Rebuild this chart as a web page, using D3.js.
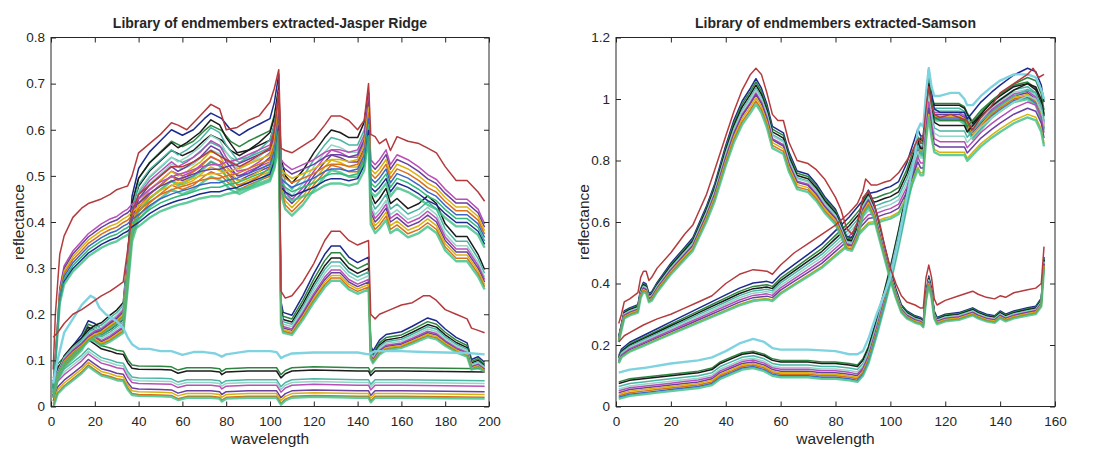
<!DOCTYPE html>
<html>
<head>
<meta charset="utf-8">
<script src="https://cdn.jsdelivr.net/npm/d3@7"></script>
<style>
  body { margin: 0; background: #fff; }
  svg text { font-family: "Liberation Sans", Arial, Helvetica, sans-serif; fill: #262626; }
</style>
</head>
<body>
<svg id="chart" width="1105" height="449"></svg>
<script>
// DATA - Jasper Ridge (wavelength band, reflectance)
const jrTree = [[1,0.02],[3,0.06],[6,0.09],[10,0.11],[14,0.13],[17,0.155],[20,0.15],[23,0.14],[27,0.15],[30,0.16],[33,0.17],[35,0.27],[37,0.38],[40,0.43],[45,0.46],[50,0.48],[55,0.5],[60,0.49],[65,0.5],[70,0.52],[73,0.53],[78,0.52],[82,0.5],[86,0.49],[90,0.5],[95,0.51],[100,0.52],[102,0.55],[104,0.6],[105,0.19],[106,0.17],[110,0.165],[115,0.2],[120,0.24],[125,0.275],[128,0.29],[132,0.29],[136,0.27],[140,0.26],[145,0.27],[146,0.11],[147,0.1],[150,0.12],[153,0.13],[160,0.135],[165,0.145],[172,0.16],[176,0.155],[180,0.14],[185,0.125],[190,0.115],[192,0.085],[195,0.09],[198,0.08]];
const jrTreeTop = [[1,0.15],[3,0.16],[6,0.18],[10,0.2],[14,0.21],[17,0.22],[20,0.23],[23,0.24],[27,0.25],[30,0.26],[33,0.27],[35,0.34],[37,0.42],[40,0.46],[45,0.48],[50,0.5],[55,0.52],[60,0.52],[65,0.53],[70,0.545],[73,0.555],[78,0.54],[82,0.53],[86,0.52],[90,0.53],[95,0.545],[100,0.56],[102,0.6],[104,0.68],[105,0.25],[107,0.235],[110,0.24],[115,0.27],[120,0.31],[125,0.36],[128,0.38],[132,0.38],[136,0.36],[140,0.35],[145,0.36],[146,0.2],[148,0.19],[150,0.2],[155,0.21],[160,0.22],[165,0.225],[170,0.24],[173,0.24],[176,0.23],[180,0.21],[185,0.2],[190,0.19],[192,0.17],[195,0.165],[198,0.16]];
const jrRoad = [[1,0.04],[2,0.1],[4,0.24],[6,0.285],[10,0.315],[14,0.335],[17,0.35],[20,0.36],[23,0.37],[27,0.38],[30,0.385],[33,0.395],[35,0.4],[37,0.41],[40,0.42],[45,0.44],[50,0.455],[55,0.465],[58,0.47],[62,0.475],[68,0.485],[73,0.49],[77,0.49],[80,0.495],[85,0.5],[90,0.51],[95,0.52],[100,0.53],[102,0.56],[104,0.64],[105,0.5],[107,0.49],[110,0.48],[115,0.49],[120,0.5],[125,0.515],[128,0.52],[132,0.52],[136,0.515],[140,0.52],[143,0.55],[145,0.63],[146,0.5],[148,0.49],[150,0.5],[153,0.52],[155,0.49],[158,0.51],[163,0.5],[168,0.485],[172,0.47],[176,0.46],[180,0.44],[185,0.42],[190,0.42],[195,0.4],[198,0.37]];
const jrRoadTop = [[1,0.08],[2,0.2],[4,0.33],[6,0.37],[10,0.41],[14,0.43],[17,0.44],[20,0.445],[23,0.45],[27,0.46],[30,0.47],[33,0.475],[35,0.478],[37,0.5],[40,0.55],[45,0.57],[50,0.59],[55,0.615],[58,0.61],[62,0.6],[68,0.63],[73,0.655],[77,0.645],[80,0.6],[85,0.605],[90,0.62],[95,0.63],[100,0.66],[102,0.69],[104,0.73],[105,0.56],[107,0.555],[110,0.55],[115,0.565],[120,0.58],[125,0.61],[128,0.63],[132,0.63],[136,0.62],[140,0.6],[143,0.62],[145,0.7],[146,0.59],[148,0.585],[150,0.57],[153,0.58],[155,0.555],[158,0.585],[163,0.575],[168,0.57],[172,0.56],[176,0.55],[180,0.52],[185,0.49],[190,0.49],[195,0.465],[198,0.445]];
const jrSoil = [[1,0.03],[3,0.07],[6,0.1],[10,0.12],[14,0.135],[17,0.15],[20,0.16],[23,0.165],[27,0.18],[30,0.19],[33,0.205],[35,0.3],[37,0.4],[40,0.45],[45,0.48],[50,0.5],[55,0.52],[58,0.51],[62,0.52],[68,0.54],[73,0.565],[77,0.555],[80,0.53],[85,0.5],[90,0.505],[95,0.52],[100,0.54],[102,0.57],[104,0.63],[105,0.49],[107,0.455],[110,0.44],[115,0.465],[120,0.5],[125,0.53],[128,0.545],[132,0.54],[136,0.53],[140,0.53],[143,0.56],[145,0.62],[146,0.42],[148,0.4],[150,0.41],[153,0.43],[155,0.4],[158,0.41],[163,0.39],[168,0.4],[172,0.415],[176,0.4],[180,0.36],[185,0.335],[190,0.335],[195,0.3],[198,0.27]];
const jrWater = [[1,0.02],[3,0.05],[6,0.065],[10,0.08],[14,0.095],[17,0.11],[20,0.1],[23,0.09],[27,0.085],[30,0.08],[33,0.078],[35,0.06],[37,0.048],[40,0.046],[50,0.045],[55,0.044],[58,0.037],[62,0.042],[73,0.042],[77,0.04],[78,0.034],[80,0.04],[90,0.042],[100,0.042],[103,0.042],[105,0.027],[107,0.036],[110,0.042],[120,0.044],[140,0.042],[145,0.042],[146,0.032],[148,0.042],[160,0.042],[180,0.041],[198,0.04]];
const jrCyan = [[1,0.05],[3,0.1],[6,0.16],[10,0.19],[14,0.22],[18,0.24],[20,0.235],[22,0.215],[25,0.2],[30,0.185],[33,0.17],[35,0.15],[37,0.135],[40,0.125],[45,0.125],[50,0.12],[55,0.12],[60,0.112],[65,0.118],[70,0.118],[75,0.115],[78,0.108],[80,0.113],[90,0.12],[100,0.12],[103,0.118],[105,0.105],[107,0.11],[110,0.115],[120,0.117],[130,0.117],[140,0.117],[145,0.113],[148,0.12],[160,0.12],[170,0.118],[180,0.117],[190,0.116],[198,0.113]];

// spread of the library members around each curve
const jrTreeGains = [1.2, 1.15, 1.11, 1.08, 1.05, 1.02, 1.0, 0.98, 0.96, 0.94];
const jrRoadGains = [1.07, 1.05, 1.03, 1.01, 0.99, 0.97, 0.95, 0.93];
const jrSoilGains = [1.1, 1.07, 1.04, 1.02, 1.0, 0.98, 0.96, 0.94];
const jrWaterOffsets = [0.042, 0.035, 0.016, 0.01, 0.004, -0.008, -0.014, -0.02, -0.023];

// DATA - Samson
const smHump = [[1,0.22],[2,0.26],[3,0.3],[5,0.31],[8,0.32],[9,0.37],[10,0.39],[11,0.385],[12,0.355],[13,0.36],[15,0.39],[20,0.45],[25,0.5],[28,0.53],[30,0.57],[33,0.63],[36,0.7],[40,0.82],[43,0.9],[46,0.96],[49,1.0],[51,1.03],[53,1.0],[55,0.95],[57,0.88],[59,0.87],[61,0.86],[63,0.8],[66,0.74],[70,0.73],[73,0.7],[76,0.66],[80,0.62],[82,0.58],[84,0.535],[86,0.53],[88,0.57],[90,0.65],[92,0.68],[94,0.64],[96,0.57],[98,0.5],[100,0.43],[102,0.37],[104,0.32],[106,0.3],[109,0.285],[111,0.28],[112,0.27],[113,0.36],[114,0.41],[115,0.37],[116,0.3],[117,0.28],[120,0.29],[125,0.295],[130,0.31],[132,0.3],[135,0.29],[138,0.285],[140,0.3],[142,0.29],[145,0.3],[150,0.31],[153,0.315],[155,0.34],[156,0.47]];
const smHumpTop = [[1,0.27],[2,0.3],[3,0.34],[5,0.35],[8,0.37],[9,0.42],[10,0.44],[11,0.44],[12,0.41],[13,0.42],[15,0.45],[20,0.5],[25,0.56],[28,0.59],[30,0.63],[33,0.69],[36,0.77],[40,0.88],[43,0.96],[46,1.03],[49,1.08],[51,1.1],[53,1.08],[55,1.02],[57,0.95],[59,0.93],[61,0.93],[63,0.86],[66,0.8],[70,0.79],[73,0.77],[76,0.74],[80,0.68],[82,0.64],[84,0.58],[86,0.56],[88,0.6],[90,0.68],[92,0.7],[94,0.66],[96,0.6],[98,0.52],[100,0.45],[102,0.4],[104,0.36],[106,0.34],[109,0.33],[111,0.32],[112,0.32],[113,0.42],[114,0.46],[115,0.42],[116,0.35],[117,0.33],[120,0.345],[125,0.36],[130,0.375],[132,0.365],[135,0.355],[138,0.35],[140,0.36],[142,0.355],[145,0.37],[150,0.38],[153,0.385],[155,0.4],[156,0.52]];
const smLinear = [[1,0.15],[2,0.17],[5,0.19],[10,0.21],[15,0.23],[20,0.25],[25,0.27],[30,0.29],[35,0.31],[40,0.33],[45,0.35],[50,0.365],[55,0.37],[57,0.365],[60,0.39],[65,0.42],[70,0.45],[75,0.48],[80,0.52],[85,0.56],[88,0.59],[90,0.61],[92,0.63],[95,0.635],[98,0.645],[100,0.65],[103,0.665],[106,0.72],[108,0.77],[110,0.82],[111,0.8],[112,0.8],[113,0.92],[114,1.0],[115,0.93],[116,0.88],[118,0.87],[122,0.87],[125,0.87],[127,0.87],[128,0.85],[130,0.87],[133,0.9],[137,0.93],[140,0.95],[145,0.98],[150,1.0],[153,0.99],[155,0.95],[156,0.9]];
const smLinearTop = [[1,0.21],[3,0.23],[5,0.24],[10,0.265],[15,0.285],[20,0.3],[25,0.32],[30,0.34],[35,0.36],[40,0.4],[45,0.43],[50,0.445],[55,0.44],[57,0.43],[60,0.46],[65,0.5],[70,0.53],[75,0.56],[80,0.59],[85,0.63],[88,0.66],[90,0.7],[91,0.74],[93,0.72],[95,0.72],[98,0.73],[100,0.735],[103,0.76],[106,0.8],[108,0.83],[110,0.87],[111,0.86],[112,0.88],[113,0.97],[114,1.04],[115,0.98],[116,0.95],[118,0.94],[122,0.95],[125,0.94],[128,0.93],[130,0.9],[133,0.94],[137,0.98],[140,1.02],[145,1.05],[150,1.08],[152,1.1],[154,1.07],[156,1.08]];
const smWater = [[1,0.045],[5,0.055],[10,0.06],[15,0.065],[20,0.07],[25,0.075],[30,0.08],[35,0.09],[38,0.11],[42,0.125],[46,0.14],[50,0.145],[54,0.135],[57,0.12],[60,0.115],[65,0.115],[70,0.115],[75,0.11],[80,0.11],[85,0.105],[88,0.1],[90,0.12],[92,0.16],[95,0.25],[98,0.35],[100,0.42],[103,0.54],[106,0.67],[109,0.79],[110,0.83],[111,0.84],[112,0.83],[113,0.97],[114,1.04],[115,0.97],[116,0.95],[118,0.95],[122,0.95],[125,0.95],[127,0.94],[128,0.92],[130,0.89],[133,0.92],[137,0.96],[140,0.98],[145,1.01],[150,1.02],[153,1.0],[155,0.95],[156,0.92]];
const smCyan = [[1,0.11],[5,0.12],[10,0.125],[20,0.14],[30,0.15],[35,0.16],[40,0.18],[45,0.205],[50,0.22],[54,0.21],[57,0.19],[60,0.185],[70,0.185],[80,0.18],[85,0.17],[88,0.17],[90,0.18],[92,0.22],[95,0.3],[98,0.37],[100,0.42],[103,0.54],[106,0.68],[109,0.82],[110,0.9],[111,0.92],[112,0.91],[113,1.02],[114,1.1],[115,1.04],[116,1.01],[118,1.01],[122,1.02],[125,1.02],[127,1.0],[128,0.98],[130,0.98],[133,1.01],[137,1.04],[140,1.06],[145,1.08],[150,1.08],[153,1.07],[155,1.03],[156,1.0]];

const smHumpGains = [1.035, 1.025, 1.015, 1.005, 1.0, 0.99, 0.985, 0.975, 0.965, 0.955];
const smLinearGains = [1.1, 1.07, 1.05, 1.03, 1.01, 0.99, 0.97, 0.95, 0.94];
const smWaterOffsets = [0.035, 0.03, 0.02, 0.012, 0.006, 0, -0.005, -0.01, -0.015, -0.02];

// TICKS
const jrXTicks = [0, 20, 40, 60, 80, 100, 120, 140, 160, 180, 200];
const jrYTicks = [0, 0.1, 0.2, 0.3, 0.4, 0.5, 0.6, 0.7, 0.8];
const smXTicks = [0, 20, 40, 60, 80, 100, 120, 140, 160];
const smYTicks = [0, 0.2, 0.4, 0.6, 0.8, 1, 1.2];

const lineColors = ['#1c2a8c', '#2e8540', '#1a1a1a', '#4cb5a5', '#93d5c6', '#b84fb8', '#6b3fa0', '#d9b310', '#d8701a', '#3a66c8', '#31b879'];
const topRed = '#b43a3c';

const svg = d3.select('#chart');
const defs = svg.append('defs');
defs.append('filter').attr('id', 'soft')
  .append('feGaussianBlur').attr('stdDeviation', 0.45);

function members(base, spread, mode) {
  return spread.map(s => base.map(([x, y]) => [x, mode === 'offset' ? y + s : y * s]));
}

function panel(cfg) {
  const x = d3.scaleLinear().domain(cfg.xDomain).range([cfg.left, cfg.right]);
  const y = d3.scaleLinear().domain(cfg.yDomain).range([cfg.bottom, cfg.top]);
  const g = svg.append('g');

  const clipId = 'clip-' + cfg.id;
  defs.append('clipPath').attr('id', clipId)
    .append('rect')
      .attr('x', cfg.left).attr('y', cfg.top)
      .attr('width', cfg.right - cfg.left).attr('height', cfg.bottom - cfg.top);

  const line = d3.line().x(d => x(d[0])).y(d => y(d[1]));
  const plot = g.append('g').attr('clip-path', `url(#${clipId})`)
    .append('g').attr('filter', 'url(#soft)');

  cfg.groups.forEach(grp => {
    const series = members(grp.base, grp.spread, grp.mode);
    series.forEach((s, i) => {
      const last = i === series.length - 1;
      plot.append('path')
        .attr('d', line(s))
        .attr('fill', 'none')
        .attr('stroke', last ? '#3cbf85' : lineColors[(i + grp.shift) % lineColors.length])
        .attr('stroke-width', last ? 2.4 : 1.5)
        .attr('stroke-opacity', last ? 0.8 : 1)
        .attr('stroke-linejoin', 'round');
    });
  });

  cfg.extras.forEach(e => {
    plot.append('path')
      .attr('d', line(e.data))
      .attr('fill', 'none')
      .attr('stroke', e.color)
      .attr('stroke-width', e.width)
      .attr('stroke-linejoin', 'round');
  });

  // axes, MATLAB style: box with inward ticks on all four sides
  const fmt = v => (v === 0 ? '0' : String(+v.toFixed(1)));
  const ax = g.append('g');

  ax.append('g').attr('transform', `translate(0,${cfg.bottom})`)
    .call(d3.axisBottom(x).tickValues(cfg.xTicks).tickSize(-5).tickPadding(10).tickFormat(d3.format('d')));
  ax.append('g').attr('transform', `translate(0,${cfg.top})`)
    .call(d3.axisTop(x).tickValues(cfg.xTicks).tickSize(-5).tickFormat(''));
  ax.append('g').attr('transform', `translate(${cfg.left},0)`)
    .call(d3.axisLeft(y).tickValues(cfg.yTicks).tickSize(-5).tickPadding(6).tickFormat(fmt));
  ax.append('g').attr('transform', `translate(${cfg.right},0)`)
    .call(d3.axisRight(y).tickValues(cfg.yTicks).tickSize(-5).tickFormat(''));

  ax.selectAll(':scope > g').attr('font-size', 13.5).attr('font-family', null);
  ax.selectAll('.domain').remove();
  ax.selectAll('.tick line').attr('stroke', '#262626');
  ax.selectAll('.tick text').attr('fill', '#262626');

  g.append('rect')
    .attr('x', cfg.left).attr('y', cfg.top)
    .attr('width', cfg.right - cfg.left).attr('height', cfg.bottom - cfg.top)
    .attr('fill', 'none').attr('stroke', '#262626').attr('stroke-width', 1);

  g.append('text')
    .attr('x', (cfg.left + cfg.right) / 2).attr('y', 28)
    .attr('text-anchor', 'middle').attr('font-size', 14).attr('font-weight', 'bold')
    .text(cfg.title);

  g.append('text')
    .attr('x', (cfg.left + cfg.right) / 2).attr('y', 444)
    .attr('text-anchor', 'middle').attr('font-size', 15.5)
    .text('wavelength');

  g.append('text')
    .attr('transform', `translate(${cfg.yLabelX},${(cfg.top + cfg.bottom) / 2}) rotate(-90)`)
    .attr('text-anchor', 'middle').attr('font-size', 15.5)
    .text('reflectance');
}

panel({
  id: 'jasper',
  left: 51, right: 489, top: 37.5, bottom: 406.5,
  xDomain: [0, 200], yDomain: [0, 0.8],
  xTicks: jrXTicks, yTicks: jrYTicks,
  yLabelX: 24,
  title: 'Library of endmembers extracted-Jasper Ridge',
  groups: [
    { base: jrWater, spread: jrWaterOffsets, mode: 'offset', shift: 1 },
    { base: jrTree, spread: jrTreeGains, mode: 'gain', shift: 0 },
    { base: jrSoil, spread: jrSoilGains, mode: 'gain', shift: 2 },
    { base: jrRoad, spread: jrRoadGains, mode: 'gain', shift: 5 }
  ],
  extras: [
    { data: jrCyan, color: '#7fd3e0', width: 2.4 },
    { data: jrTreeTop, color: topRed, width: 1.5 },
    { data: jrRoadTop, color: topRed, width: 1.5 }
  ]
});

panel({
  id: 'samson',
  left: 616, right: 1055, top: 37.5, bottom: 406.5,
  xDomain: [0, 160], yDomain: [0, 1.2],
  xTicks: smXTicks, yTicks: smYTicks,
  yLabelX: 589,
  title: 'Library of endmembers extracted-Samson',
  groups: [
    { base: smWater, spread: smWaterOffsets, mode: 'offset', shift: 1 },
    { base: smLinear, spread: smLinearGains, mode: 'gain', shift: 0 },
    { base: smHump, spread: smHumpGains, mode: 'gain', shift: 0 }
  ],
  extras: [
    { data: smCyan, color: '#7fd3e0', width: 2.4 },
    { data: smHumpTop, color: topRed, width: 1.5 },
    { data: smLinearTop, color: topRed, width: 1.5 }
  ]
});
</script>
</body>
</html>
